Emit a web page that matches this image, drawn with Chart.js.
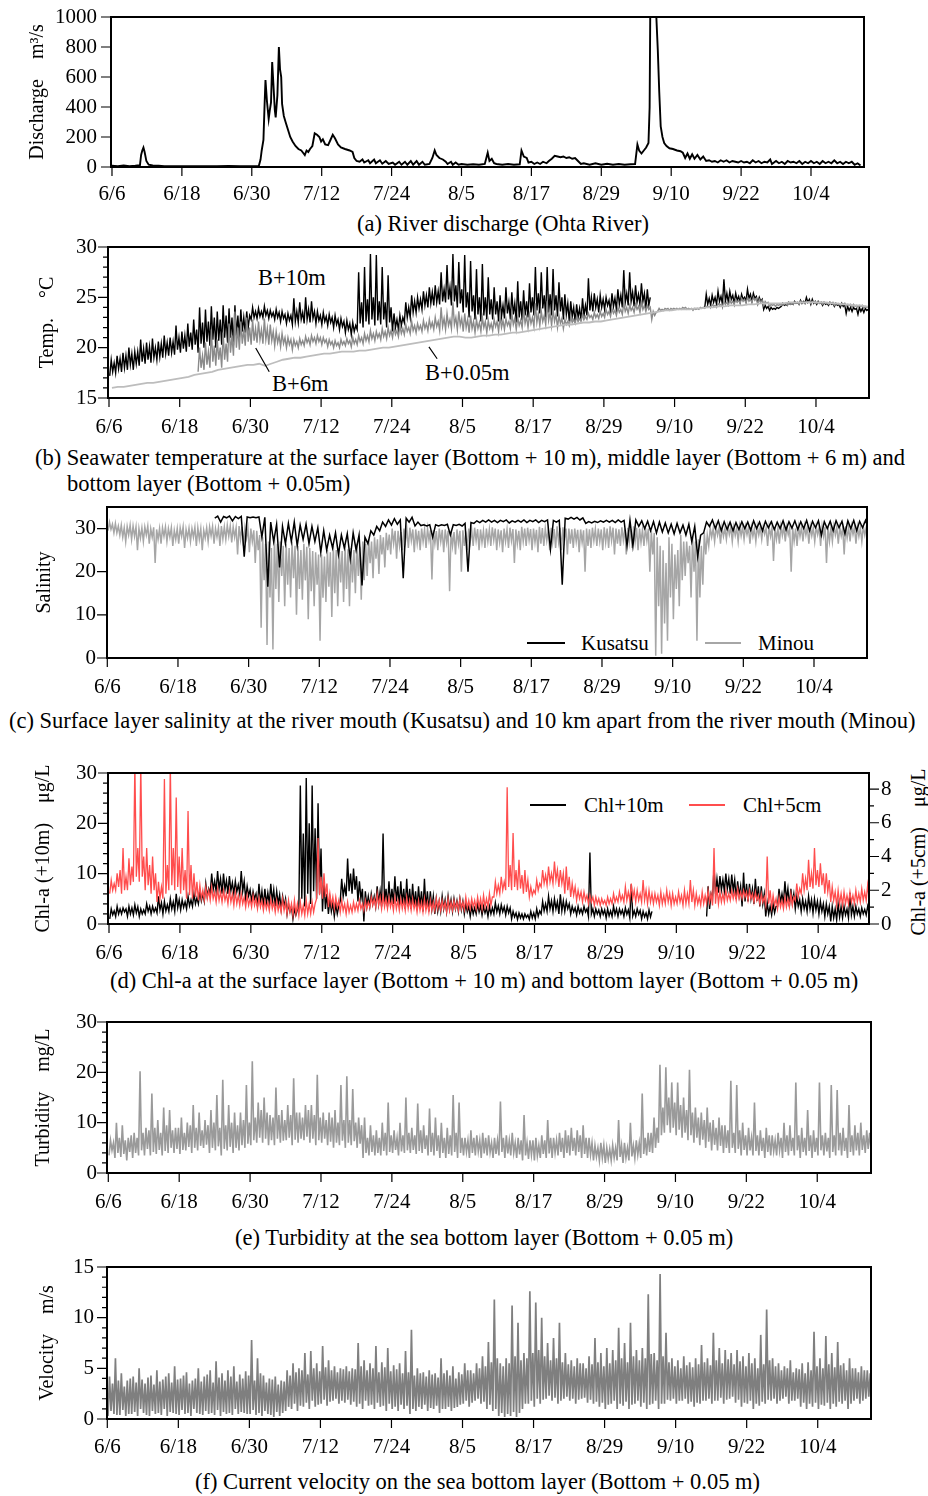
<!DOCTYPE html>
<html>
<head>
<meta charset="utf-8">
<title>Ohta River mouth observations</title>
<script src="https://cdn.jsdelivr.net/npm/chart.js@4.4.1/dist/chart.umd.min.js"></script>
<style>
  body { margin: 0; background: #fff; }
  #page { position: relative; width: 928px; height: 1496px; overflow: hidden; background: #fff;
          font-family: "Liberation Serif", "Times New Roman", serif; color: #000; }
  #page canvas { position: absolute; left: 0; }
  .t { position: absolute; font-size: 22.5px; line-height: 26px; white-space: nowrap; }
  .lg { position: absolute; height: 0; border-top: 2px solid #000; }
  .vt { position: absolute; font-size: 20px; white-space: pre; transform: translate(-50%, -50%) rotate(-90deg); }
</style>
</head>
<body>
<div id="page">
  <div class="t" style="left:357px;top:211px">(a) River discharge (Ohta River)</div>

  <div class="t" style="left:258px;top:265px">B+10m</div>
  <div class="t" style="left:272px;top:371px">B+6m</div>
  <div class="t" style="left:425px;top:360px">B+0.05m</div>
  <div class="t" style="left:35px;top:445px">(b) Seawater temperature at the surface layer (Bottom + 10 m), middle layer (Bottom + 6 m) and</div>
  <div class="t" style="left:67px;top:471px">bottom layer (Bottom + 0.05m)</div>

  <div class="lg" style="left:527px;top:642px;width:38px"></div>
  <div class="t" style="left:581px;top:630px;font-size:21px">Kusatsu</div>
  <div class="lg" style="left:705px;top:642px;width:36px;border-color:#a6a6a6"></div>
  <div class="t" style="left:758px;top:630px;font-size:21px">Minou</div>
  <div class="t" style="left:9px;top:708px">(c) Surface layer salinity at the river mouth (Kusatsu) and 10 km apart from the river mouth (Minou)</div>

  <div class="lg" style="left:530px;top:804px;width:36px"></div>
  <div class="t" style="left:584px;top:792px;font-size:21px">Chl+10m</div>
  <div class="lg" style="left:689px;top:804px;width:36px;border-color:#ff4d4d"></div>
  <div class="t" style="left:743px;top:792px;font-size:21px">Chl+5cm</div>
  <div class="vt" style="left:918px;top:852px">Chl-a (+5cm)    μg/L</div>
  <div class="t" style="left:110px;top:968px">(d) Chl-a at the surface layer (Bottom + 10 m) and bottom layer (Bottom + 0.05 m)</div>

  <div class="t" style="left:235px;top:1225px">(e) Turbidity at the sea bottom layer (Bottom + 0.05 m)</div>

  <div class="t" style="left:195px;top:1469px">(f) Current velocity on the sea bottom layer (Bottom + 0.05 m)</div>
</div>

<script>
// ---- time axis (days after 6/6) ----
const tickDays = [0, 12, 24, 36, 48, 60, 72, 84, 96, 108, 120];
const tickLabels = ['6/6', '6/18', '6/30', '7/12', '7/24', '8/5', '8/17', '8/29', '9/10', '9/22', '10/4'];

// ---- y tick values ----
const dischargeTicks = [0, 200, 400, 600, 800, 1000];
const tempTicks = [15, 20, 25, 30];
const salinityTicks = [0, 10, 20, 30];
const chlTicks = [0, 10, 20, 30];
const chlBottomTicks = [0, 2, 4, 6, 8];
const turbidityTicks = [0, 10, 20, 30];
const velocityTicks = [0, 5, 10, 15];

// ---- (a) river discharge, [day, m3/s] ----
const discharge = [
  [0,8],[1,6],[2,10],[3,5],[4,8],[4.8,12],[5,80],[5.2,110],[5.4,130],[5.6,100],[5.9,40],[6.3,15],[7,10],[8,8],
  [9,6],[10,5],[12,6],[14,5],[16,6],[18,5],[20,7],[22,5],[24,5],[25.2,6],[25.5,50],[25.7,110],[26,180],
  [26.2,420],[26.35,580],[26.6,440],[26.9,320],[27.1,380],[27.3,430],[27.5,700],[27.7,560],[27.95,380],
  [28.1,330],[28.4,480],[28.65,800],[28.85,650],[29.05,600],[29.2,420],[29.5,340],[29.8,300],[30.2,250],
  [30.6,200],[31,170],[31.5,140],[32,120],[32.5,110],[32.8,95],[33.1,80],[33.4,110],[33.7,100],[34,120],
  [34.4,140],[34.8,225],[35.2,215],[35.6,200],[35.9,170],[36.2,185],[36.6,150],[37.1,145],[37.5,180],
  [37.9,215],[38.3,190],[38.8,150],[39.3,130],[40,120],[40.8,110],[41.3,100],[41.6,60],[42,40],[42.5,35],
  [43,50],[43.3,30],[44,45],[44.3,25],[45,50],[45.3,25],[46,45],[46.4,22],[47,40],[47.5,20],[48.2,30],
  [48.6,15],[49.3,35],[49.7,15],[50.3,35],[50.7,15],[51.3,40],[51.7,15],[52.3,40],[52.7,15],[53.3,35],
  [53.7,15],[54.5,20],[55,60],[55.4,110],[55.7,80],[56.2,60],[56.8,50],[57.3,35],[57.6,20],[58.2,35],
  [58.5,15],[59,30],[59.5,15],[60,20],[61,15],[62,18],[63,15],[64,20],[64.5,95],[64.8,40],[65.2,55],
  [65.6,25],[66,20],[67,15],[68,20],[69,15],[70,18],[70.3,110],[70.7,70],[71.2,60],[71.5,30],[72,35],
  [72.5,20],[73,30],[73.5,20],[74,35],[74.6,25],[75,40],[75.5,55],[76,75],[76.5,70],[77,65],[77.5,70],
  [78,60],[78.5,65],[79,55],[79.5,60],[80,40],[80.5,20],[81,25],[82,15],[83,25],[84,15],[85,22],[86,15],
  [87,20],[88,15],[89,18],[89.8,20],[90.2,150],[90.5,110],[90.9,90],[91.3,110],[91.7,130],[92.1,160],
  [92.3,400],[92.45,1300],[93.2,1300],[93.45,1000],[93.7,780],[93.95,500],[94.2,270],[94.5,200],[94.8,160],
  [95.2,140],[95.7,125],[96.3,120],[97,110],[97.6,105],[98,95],[98.4,60],[98.8,90],[99.2,55],[99.6,85],
  [100,55],[100.5,80],[101,50],[101.5,70],[102,40],[102.5,45],[103,35],[103.5,40],[104,30],[104.5,45],
  [105,35],[105.5,45],[106,30],[106.5,40],[107,35],[107.5,30],[108,40],[108.5,30],[109,35],[109.5,25],
  [110,45],[110.5,30],[111,40],[111.5,25],[112,35],[112.5,30],[113,50],[113.3,20],[114,40],[114.5,25],
  [115,35],[115.5,20],[116,40],[116.5,30],[117,35],[117.5,25],[118,40],[118.5,20],[119,35],[119.5,25],
  [120,40],[120.5,25],[121,35],[121.5,20],[122,40],[122.5,25],[123,35],[123.5,25],[124,45],[124.5,25],
  [125,35],[125.5,20],[126,35],[126.5,25],[127,35],[127.5,15],[128,25],[128.5,10]
];

// ---- (b) water temperature, two low / high readings per day (°C) ----
const tempB10Lo = [
  17.2,17.5,17.6,17.8,17.8,18.2,18.4,18.5,18.8,19.0, 19.2,19.3,19.5,19.6,19.8,19.5,20.0,20.2,20.0,20.3,
  20.5,20.2,21.0,21.5,22.8,22.9,23.0,22.9,22.8,22.6, 22.4,22.3,22.5,22.4,22.5,22.4,22.3,22.2,22.0,21.8,
  21.5,21.3,21.8,22.0,22.3,22.2,22.3,22.0,21.6,21.8, 22.5,23.0,23.5,23.8,24.0,24.2,24.3,24.5,24.2,24.0,
  23.5,23.0,22.8,22.6,22.8,22.8,22.6,22.9,22.8,22.5, 22.7,23.0,23.2,23.4,23.0,23.2,23.1,22.8,22.6,22.5,
  22.7,23.2,23.6,23.5,23.8,23.6,23.8,24.0,24.2,24.1, 24.3,23.8,null,null,null,null,null,null,null,null,
  null,24.0,24.2,24.3,24.3,24.5,24.4,24.5,24.6,24.6, 24.4,23.8,23.7,23.8,24.1,24.2,24.3,24.3,24.4,24.3,
  24.3,24.2,24.2,24.1,24.0,23.4,23.6,23.3,23.5,23.7
];
const tempB10Hi = [
  18.8,19.2,19.5,20.0,19.6,20.8,20.5,20.9,20.6,21.2, 21.0,22.2,21.6,22.4,22.8,24.0,23.8,24.1,23.6,24.2,
  23.9,24.2,23.8,23.6,24.0,23.9,24.1,23.7,23.8,23.6, 23.4,24.9,24.5,25.0,24.6,23.6,23.5,23.3,23.2,22.9,
  22.7,22.5,27.5,28.0,29.3,29.2,28.0,27.2,23.4,23.2, 24.5,25.2,25.0,25.6,26.0,26.2,27.5,28.2,29.3,28.5,
  29.2,28.6,27.8,28.3,27.0,26.0,25.2,26.0,25.5,26.6, 25.7,26.4,28.0,27.5,28.0,27.8,26.5,25.3,24.6,24.3,
  24.9,26.9,25.4,25.2,25.0,25.4,25.8,27.7,27.5,26.2, 26.4,25.8,null,null,null,null,null,null,null,null,
  null,25.3,25.2,25.6,26.8,25.6,25.4,25.3,25.8,25.4, 25.0,24.2,24.0,24.0,24.4,24.5,24.6,24.7,25.0,24.8,
  24.6,24.5,24.5,24.4,24.4,24.1,24.0,24.0,23.9,24.0
];
const tempB10Lo2 = [
  17.6,17.9,18.0,18.3,18.4,18.6,18.8,19.0,19.1,19.4, 19.5,19.8,19.9,20.1,20.3,20.4,20.6,20.8,20.7,21.0,
  21.0,21.2,21.6,22.0,23.0,23.1,23.2,23.1,23.0,22.9, 22.7,22.6,22.8,22.8,22.9,22.7,22.6,22.5,22.3,22.1,
  21.8,21.6,22.4,22.6,22.8,22.7,22.8,22.5,22.0,22.2, 23.0,23.5,23.9,24.2,24.4,24.5,24.6,24.8,24.6,24.4,
  24.0,23.6,23.3,23.2,23.3,23.3,23.1,23.4,23.3,23.0, 23.2,23.5,23.7,23.9,23.5,23.7,23.6,23.3,23.1,23.0,
  23.2,23.7,24.0,24.0,24.2,24.1,24.3,24.5,24.6,24.5, 24.6,24.2,null,null,null,null,null,null,null,null,
  null,24.3,24.5,24.6,24.6,24.8,24.7,24.8,24.9,24.9, 24.6,23.9,23.8,23.9,24.2,24.3,24.4,24.4,24.5,24.4,
  24.4,24.3,24.3,24.2,24.1,23.7,23.8,23.6,23.7,23.8
];
const tempB10Hi2 = [
  18.5,18.9,19.2,19.4,19.6,19.9,20.1,20.0,20.4,20.5, 20.6,21.0,21.2,21.5,21.8,22.5,22.6,23.0,22.8,23.2,
  23.0,23.2,23.0,23.2,23.6,23.6,23.7,23.5,23.5,23.3, 23.2,23.6,23.5,23.8,23.6,23.2,23.1,23.0,22.8,22.6,
  22.4,22.2,24.5,24.8,25.0,24.6,24.5,24.0,22.8,23.0, 24.0,24.6,24.8,25.2,25.5,25.6,25.8,26.0,26.2,25.8,
  25.5,25.2,25.0,25.0,24.8,24.6,24.2,24.5,24.4,24.6, 24.6,25.0,25.4,25.2,25.3,25.2,25.0,24.4,24.0,23.9,
  24.2,25.0,24.8,24.8,24.7,24.9,25.2,25.4,25.5,25.3, 25.4,25.0,null,null,null,null,null,null,null,null,
  null,24.9,25.0,25.1,25.4,25.2,25.1,25.0,25.3,25.1, 24.8,24.1,23.9,24.0,24.3,24.4,24.5,24.6,24.8,24.6,
  24.5,24.4,24.4,24.3,24.3,24.0,23.9,23.9,23.8,23.9
];
const tempB6Start = 15;
const tempB6Lo = [
  17.6,17.8,18.0,18.2,18.0,
  18.6,19.2,19.8,20.2,20.3,20.5,20.4,20.3,20.2,20.1, 20.0,19.8,20.0,20.2,20.3,20.4,20.3,20.1,20.0,20.0,
  20.2,20.1,20.3,20.4,20.6,20.7,20.8,20.9,21.0,21.1, 21.3,21.4,21.5,21.6,21.7,21.8,21.7,21.8,21.9,21.8,
  21.6,21.5,21.5,21.6,21.5,21.7,21.6,21.8,21.9,21.8, 22.0,22.0,22.1,22.2,22.3,22.2,22.0,21.9,22.2,22.4,
  22.6,22.8,22.8,22.9,23.0,23.1,23.2,23.3,23.4,23.5, 23.5,23.6,22.8,23.6,23.7,23.7,23.8,23.8,23.8,23.7,
  23.8,23.9,24.0,24.0,24.1,24.2,24.3,24.4,24.4,24.5, 24.3,24.2,24.1,24.1,24.2,24.2,24.3,24.3,24.4,24.4,
  24.4,24.3,24.3,24.2,24.2,24.1,24.0,24.0,23.9,23.9
];
const tempB6Hi = [
  20.0,20.5,21.8,20.8,21.5,
  22.4,23.6,22.6,23.0,22.8,22.6,22.9,22.3,21.6,21.4, 21.0,20.8,20.9,21.1,21.2,21.2,21.0,20.8,20.7,20.8,
  20.9,21.0,21.2,21.4,21.7,21.6,21.9,22.0,22.0,22.2, 22.3,22.6,22.4,22.7,22.8,23.0,24.0,23.4,24.5,23.6,
  23.4,23.2,22.8,23.0,22.7,22.8,23.1,22.9,23.4,23.0, 23.8,23.3,24.4,23.6,24.6,23.8,23.2,22.8,23.0,23.1,
  23.3,23.4,23.5,23.6,23.8,23.9,24.0,24.4,24.2,24.3, 24.5,24.2,23.6,23.9,23.9,23.9,23.9,24.0,23.9,23.9,
  24.0,24.1,24.3,24.4,24.6,24.7,24.8,24.9,25.0,25.0, 24.8,24.6,24.3,24.3,24.4,24.4,24.5,24.6,24.6,24.6,
  24.5,24.5,24.5,24.4,24.4,24.3,24.3,24.2,24.1,24.1
];
const tempB6Lo2 = [
  18.0,18.3,18.6,18.8,18.8,
  19.5,20.0,20.4,20.6,20.7,20.8,20.8,20.7,20.5,20.4, 20.3,20.2,20.3,20.5,20.6,20.6,20.5,20.3,20.2,20.3,
  20.4,20.4,20.6,20.7,20.9,21.0,21.1,21.2,21.3,21.4, 21.6,21.7,21.8,21.9,22.0,22.1,22.1,22.2,22.3,22.2,
  22.0,21.9,21.9,22.0,21.9,22.1,22.0,22.2,22.3,22.2, 22.4,22.4,22.5,22.6,22.7,22.6,22.4,22.3,22.5,22.6,
  22.8,23.0,23.0,23.1,23.3,23.4,23.5,23.6,23.7,23.8, 23.8,23.8,23.2,23.7,23.8,23.8,23.8,23.9,23.8,23.8,
  23.9,24.0,24.1,24.2,24.3,24.4,24.5,24.6,24.6,24.7, 24.5,24.4,24.2,24.2,24.3,24.3,24.4,24.4,24.5,24.5,
  24.4,24.4,24.4,24.3,24.3,24.2,24.1,24.1,24.0,24.0
];
const tempB6Hi2 = [
  19.2,19.6,20.2,20.0,20.4,
  21.2,22.0,21.8,22.0,21.9,21.8,21.9,21.6,21.2,21.0, 20.8,20.6,20.7,20.9,21.0,21.0,20.8,20.6,20.5,20.6,
  20.7,20.8,21.0,21.2,21.4,21.4,21.6,21.7,21.7,21.9, 22.0,22.2,22.2,22.4,22.5,22.6,22.9,22.8,23.0,22.9,
  22.8,22.6,22.5,22.6,22.4,22.6,22.7,22.6,22.9,22.7, 23.1,23.0,23.4,23.2,23.5,23.3,22.9,22.6,22.8,22.9,
  23.1,23.2,23.3,23.4,23.6,23.7,23.8,24.0,24.0,24.1, 24.2,24.0,23.5,23.8,23.9,23.9,23.9,24.0,23.9,23.9,
  24.0,24.1,24.2,24.3,24.5,24.6,24.7,24.8,24.8,24.9, 24.7,24.5,24.3,24.3,24.4,24.4,24.5,24.5,24.6,24.6,
  24.5,24.5,24.5,24.4,24.4,24.3,24.2,24.2,24.1,24.1
];
const tempB005 = [
  16.0,16.1,16.1,16.2,16.3,16.4,16.5,16.5,16.6,16.7, 16.8,16.9,17.0,17.1,17.3,17.4,17.5,17.6,17.8,17.9,
  18.0,18.1,18.2,18.3,18.3,18.4,18.2,18.4,18.6,18.8, 18.9,19.0,19.0,19.1,19.2,19.3,19.4,19.4,19.5,19.6,
  19.6,19.6,19.7,19.7,19.8,19.9,20.0,20.0,20.1,20.2, 20.3,20.4,20.5,20.6,20.7,20.8,20.9,21.0,21.1,21.1,
  21.0,21.0,21.1,21.2,21.2,21.3,21.3,21.4,21.5,21.5, 21.6,21.7,21.8,21.9,22.0,22.1,22.2,22.3,22.3,22.4,
  22.5,22.5,22.6,22.6,22.7,22.8,22.9,23.0,23.1,23.2, 23.3,23.4,23.5,23.6,23.7,23.7,23.8,23.8,23.8,23.9,
  23.9,24.0,24.0,24.1,24.1,24.2,24.2,24.2,24.3,24.3, 24.4,24.4,24.4,24.4,24.4,24.5,24.5,24.5,24.5,24.5,
  24.5,24.5,24.4,24.4,24.3,24.3,24.2,24.2,24.1,24.0
];

// ---- (c) surface salinity: first and second tidal cycle low / high each day ----
const salMinouLo = [
  29.5,29.0,28.5,27.0,27.5,25.0,27.0,26.5,22.0,26.5, 27.0,26.0,26.5,25.5,27.0,26.0,25.0,27.0,26.5,26.0,
  27.5,26.8,24.0,26.0,24.5,22.0,7.0,3.0,2.0,13.0, 12.0,14.0,10.0,13.5,9.0,12.0,4.0,13.0,9.5,12.0,
  13.0,12.0,15.0,13.5,19.0,18.5,19.5,21.0,24.0,23.0, 25.0,25.5,24.5,25.0,25.5,18.2,25.0,24.5,15.5,24.0,
  20.0,25.0,26.0,25.0,25.5,26.0,25.0,24.5,25.5,22.0, 25.0,26.0,25.0,24.5,26.0,25.0,25.5,25.0,24.0,25.5,
  24.5,20.0,25.5,26.0,25.0,25.5,24.0,26.0,24.0,25.5, 25.0,26.0,20.0,0.5,1.0,4.0,9.0,12.0,19.0,14.0,
  4.0,17.0,26.0,27.0,26.5,27.5,27.0,27.0,27.5,26.5, 27.0,27.5,26.0,22.5,26.5,27.0,20.0,26.0,27.0,26.5,
  27.0,26.0,22.0,27.0,26.5,24.0,27.0,26.5,27.0,28.5
];
const salMinouHi = [
  31.5,31.2,30.8,30.5,30.6,30.0,30.4,30.0,29.8,30.2, 30.0,29.6,30.2,29.8,30.0,30.2,29.6,30.4,30.0,30.6,
  30.8,30.4,30.6,30.2,30.0,29.5,28.0,27.0,28.0,27.0, 26.5,27.0,26.0,26.5,25.5,24.5,24.0,25.0,26.0,25.5,
  26.0,25.5,26.5,27.0,27.5,28.0,28.5,29.0,30.0,29.5, 30.0,30.2,29.8,30.0,30.0,29.6,30.0,29.8,29.5,29.8,
  29.6,30.0,30.2,29.8,30.0,30.3,29.8,30.0,30.2,29.8, 30.4,30.2,30.0,30.4,30.0,30.2,30.5,30.3,30.0,30.0,
  29.8,30.0,30.2,30.0,30.3,30.5,30.0,30.3,30.2,30.5, 30.0,30.2,29.5,28.0,25.0,28.0,24.0,28.5,27.0,28.0,
  27.5,29.0,30.2,30.5,30.3,30.6,30.4,30.6,30.5,30.3, 30.6,30.4,30.5,30.3,30.6,30.4,30.2,30.5,30.6,30.4,
  30.5,30.6,30.4,30.6,30.3,30.5,30.6,30.4,30.5,30.5
];
const salMinouLo2 = [
  29.8,29.0,28.0,28.5,28.2,27.8,28.5,28.0,27.5,28.2, 28.0,27.5,28.2,27.8,28.0,27.5,27.8,28.3,28.0,27.6,
  28.2,28.0,27.5,27.8,27.0,25.0,18.0,14.0,16.0,19.0, 17.0,18.5,16.0,18.0,15.5,17.0,14.0,16.5,15.0,17.5,
  16.0,17.5,19.0,18.0,22.0,23.0,24.0,25.0,26.5,26.0, 27.0,27.2,26.5,27.0,27.3,26.5,27.0,26.8,26.0,26.5,
  26.0,27.0,27.2,26.8,27.0,27.3,26.8,27.0,27.2,26.5, 27.0,27.3,26.8,26.5,27.2,26.8,27.0,27.3,26.5,27.0,
  26.8,26.0,27.2,27.0,26.8,27.2,26.5,27.3,26.8,27.0, 26.8,27.2,24.0,12.0,8.0,14.0,16.0,18.0,22.0,20.0,
  14.0,24.0,28.0,28.5,28.2,28.6,28.4,28.3,28.6,28.2, 28.5,28.7,28.2,27.5,28.4,28.6,27.0,28.2,28.5,28.3,
  28.6,28.2,27.0,28.5,28.3,27.8,28.6,28.2,28.5,29.0
];
const salMinouHi2 = [
  31.0,30.6,30.2,30.8,30.4,30.2,30.6,30.3,30.0,30.4, 30.2,30.0,30.4,30.1,30.3,30.0,30.2,30.5,30.2,30.4,
  30.6,30.2,30.4,30.0,29.6,28.5,26.5,25.5,26.5,26.0, 25.5,26.0,25.0,25.8,24.8,24.0,23.5,24.5,25.0,24.8,
  25.2,25.0,25.8,26.5,27.0,27.5,28.0,28.6,29.5,29.2, 29.6,29.8,29.5,29.8,29.6,29.4,29.7,29.5,29.2,29.5,
  29.3,29.7,29.9,29.5,29.8,30.0,29.6,29.8,29.9,29.5, 30.0,29.9,29.7,30.1,29.8,29.9,30.2,30.0,29.8,29.7,
  29.6,29.8,29.9,29.8,30.0,30.2,29.8,30.0,29.9,30.2, 29.8,30.0,29.0,26.0,22.0,26.5,25.0,27.0,26.0,27.0,
  26.0,28.5,30.0,30.2,30.0,30.3,30.2,30.4,30.3,30.0, 30.3,30.2,30.3,30.0,30.4,30.2,30.0,30.3,30.4,30.2,
  30.3,30.4,30.2,30.4,30.1,30.3,30.4,30.2,30.3,30.4
];
const salKusatsuStart = 18;
const salKusatsuLo = [
  32.4,31.5,
  32.5,31.8,32.3,23.5,32.5,32.5,28.0,16.5,27.0,21.0, 26.5,27.0,26.0,27.5,26.5,27.0,24.5,25.0,25.5,24.0,
  25.5,23.0,25.0,16.8,26.5,28.5,29.5,30.5,30.8,31.0, 18.5,31.5,30.6,30.7,30.6,28.0,30.6,30.7,28.5,30.7,
  30.6,20.0,31.2,31.4,31.5,31.5,31.4,31.6,31.3,31.5, 31.5,31.4,31.6,31.4,31.6,25.2,31.5,17.0,32.2,32.2,
  32.0,31.2,31.3,31.4,31.5,31.5,31.4,31.5,26.0,26.0, 30.5,30.0,29.5,29.0,29.2,29.0,28.8,29.0,28.5,27.0,
  23.5,29.0,30.5,30.0,29.5,29.8,29.5,29.8,30.0,29.6, 30.0,29.5,30.2,29.8,30.0,29.7,30.1,29.8,30.0,29.5,
  30.2,28.5,30.0,29.5,30.2,28.8,30.0,29.5,30.2,30.0
];
const salKusatsuHi = [
  32.9,32.8,
  32.9,32.8,32.8,32.7,32.7,32.7,32.6,31.5,31.0,30.5, 31.2,31.5,30.8,31.0,30.5,30.2,29.5,28.5,29.0,28.5,
  28.8,29.0,28.5,28.0,29.5,30.5,31.5,32.0,32.3,32.0, 32.4,32.6,31.5,30.9,30.9,30.9,30.9,31.0,30.9,31.0,
  31.2,31.4,31.8,31.9,32.0,31.9,31.9,32.0,31.8,31.9, 32.0,31.9,32.0,31.9,32.0,31.9,31.9,32.4,32.6,32.6,
  32.5,31.6,31.7,31.8,31.9,31.9,32.0,31.9,31.9,32.0, 31.8,31.7,31.6,31.5,31.3,31.0,31.2,30.8,31.0,30.5,
  28.5,31.5,32.0,31.8,31.6,31.5,31.4,31.6,31.5,31.8, 31.5,31.7,31.6,31.5,31.8,31.6,31.8,31.6,31.9,31.7,
  31.8,31.6,31.7,31.8,31.7,31.8,31.9,31.7,31.9,31.8
];

// ---- (d) chlorophyll-a, two low / high readings per day (μg/L) ----
const chl10Lo = [
  1.0,1.5,2.0,1.5,1.8,1.5,2.0,2.0,2.2,2.0, 2.5,2.5,2.8,3.0,3.5,4.0,4.5,6.0,6.5,6.0,
  6.0,6.0,6.0,5.0,4.5,3.5,3.5,4.0,3.5,3.0, 2.0,1.0,3.0,3.5,4.0,5.0,2.5,2.0,1.5,4.5,
  5.5,6.0,4.5,0.5,3.5,3.5,3.5,3.5,4.0,3.5, 3.0,3.0,3.0,2.5,2.5,2.0,2.5,2.5,2.5,2.5,
  2.0,1.5,2.0,1.8,1.5,2.0,2.0,1.8,1.0,0.9, 1.0,0.9,1.0,2.0,2.5,2.5,2.0,2.5,2.0,1.8,
  2.0,1.5,1.5,1.5,1.2,1.5,1.5,1.5,1.2,1.5, 1.0,1.0,null,null,null,null,null,null,null,null,
  null,1.5,5.0,6.2,6.5,6.0,5.0,3.5,4.5,4.0, 3.5,1.5,1.8,3.5,4.0,3.5,3.0,2.5,2.5,2.2,
  2.0,1.5,0.5,0.8,1.2,1.2,1.5,1.5,1.8,2.0
];
const chl10Hi = [
  3.0,3.5,3.2,3.5,3.8,3.0,4.0,3.5,5.5,4.5, 5.0,6.0,4.8,5.5,6.0,6.5,8.0,10.0,10.5,10.0,
  9.5,8.5,10.5,7.5,6.5,8.0,7.0,8.0,6.5,5.5, 4.0,3.0,27.5,29.0,27.5,24.0,9.0,5.0,4.0,9.0,
  13.0,11.0,8.5,6.5,6.0,7.5,18.0,8.5,9.5,8.5, 9.0,8.0,7.5,9.0,6.5,5.0,5.5,5.5,5.0,5.0,
  4.0,3.5,4.0,3.5,3.5,4.2,3.8,3.5,2.5,2.2, 2.0,2.5,3.0,4.5,5.5,5.0,5.9,4.5,3.5,3.5,
  3.5,14.2,3.0,3.0,3.0,3.5,3.0,3.2,7.9,3.0, 2.5,2.8,null,null,null,null,null,null,null,null,
  null,7.5,11.2,9.5,10.0,9.8,8.5,10.2,8.0,9.0, 7.5,4.2,4.0,7.0,8.5,7.0,5.5,5.0,5.5,5.0,
  4.5,4.0,3.5,4.0,3.5,6.2,3.5,3.2,3.5,3.5
];
const chl10Lo2 = [
  1.8,2.0,2.4,2.0,2.2,2.0,2.5,2.4,2.8,2.6, 3.0,3.2,3.3,3.6,4.0,4.6,5.5,6.8,7.0,6.8,
  6.6,6.4,6.5,5.6,5.0,4.2,4.0,4.5,4.0,3.5, 2.5,1.8,5.0,6.0,6.5,6.0,3.0,2.5,2.0,5.5,
  6.5,6.8,5.0,3.5,4.0,4.0,4.0,4.0,4.5,4.0, 3.5,3.5,3.5,3.0,3.0,2.5,3.0,3.0,3.0,2.8,
  2.4,2.0,2.4,2.2,2.0,2.4,2.4,2.2,1.4,1.2, 1.3,1.2,1.5,2.6,3.0,3.0,2.6,3.0,2.4,2.2,
  2.4,2.0,2.0,1.9,1.6,1.9,2.0,1.9,1.6,1.9, 1.4,1.4,null,null,null,null,null,null,null,null,
  null,3.0,6.0,6.8,7.0,6.6,5.6,4.5,5.0,4.6, 4.0,2.0,2.2,4.2,4.8,4.2,3.5,3.0,3.0,2.8,
  2.5,2.0,1.2,1.4,1.8,1.8,2.0,2.0,2.2,2.4
];
const chl10Hi2 = [
  2.6,3.0,3.0,3.2,3.4,2.8,3.5,3.2,4.2,3.8, 4.4,4.8,4.4,4.8,5.2,6.0,7.0,8.5,9.0,8.6,
  8.2,7.8,8.5,6.8,6.0,6.5,6.2,6.8,5.8,5.0, 3.5,2.8,18.0,20.0,19.0,15.0,6.0,4.2,3.5,7.5,
  10.0,9.5,7.0,5.5,5.5,6.5,7.0,7.0,7.5,7.0, 7.0,6.5,6.5,6.5,5.5,4.5,4.8,4.8,4.6,4.5,
  3.5,3.2,3.6,3.2,3.2,3.6,3.4,3.2,2.2,2.0, 1.8,2.2,2.6,4.0,4.6,4.4,4.6,4.0,3.2,3.0,
  3.0,3.0,2.8,2.8,2.6,3.0,2.8,2.8,2.6,2.7, 2.2,2.5,null,null,null,null,null,null,null,null,
  null,6.0,9.0,8.8,9.0,8.8,7.5,8.0,7.0,7.5, 6.0,3.5,3.5,6.0,7.0,6.0,4.8,4.5,4.8,4.5,
  4.0,3.5,3.0,3.4,3.0,3.5,3.0,2.9,3.0,3.0
];
const chl5Lo = [
  1.8,2.0,1.8,2.0,2.5,2.5,2.0,1.8,1.3,1.5, 2.0,2.0,1.8,1.5,1.5,1.4,1.4,1.4,1.3,1.3,
  1.2,1.1,1.1,1.0,1.0,0.9,0.8,0.8,0.7,0.7, 0.6,0.5,0.5,0.5,0.6,1.5,1.5,1.0,0.9,0.7,
  0.6,0.7,0.8,0.8,1.0,1.0,0.9,0.9,0.8,0.8, 0.8,0.8,0.7,0.7,0.7,0.8,0.8,0.7,0.8,0.8,
  0.85,0.9,0.9,0.9,1.0,1.6,1.8,2.0,2.0,2.0, 1.8,1.6,1.8,2.2,2.3,2.4,2.2,1.8,1.6,1.4,
  1.3,1.2,1.1,1.1,1.1,1.2,1.3,1.3,1.4,1.3, 1.3,1.2,1.2,1.1,1.2,1.1,1.2,1.1,1.2,1.1,
  1.1,1.2,1.1,1.2,1.3,1.4,1.4,1.5,1.4,1.3, 1.2,1.1,1.0,0.9,0.9,1.0,1.4,1.8,2.0,2.1,
  2.2,1.8,1.3,1.1,1.1,1.2,1.2,1.3,1.4,1.6
];
const chl5Hi = [
  2.6,3.0,4.5,3.9,9.5,9.5,4.5,4.0,2.5,8.6, 9.5,7.5,4.5,6.7,3.0,2.3,2.2,2.2,2.1,2.0,
  2.0,1.9,1.8,1.7,1.7,1.6,1.4,1.5,1.4,1.5, 1.4,1.4,1.3,1.4,1.3,5.1,3.0,1.8,1.6,1.4,
  1.3,1.3,1.4,1.4,1.6,1.8,1.7,1.6,1.6,1.5, 1.6,1.5,1.4,1.5,1.4,1.5,1.4,1.5,1.4,1.5,
  1.6,1.5,1.6,1.7,1.8,2.5,2.8,8.1,5.4,3.8, 3.2,2.2,2.6,3.2,3.4,3.7,3.2,3.4,2.4,2.0,
  1.9,1.7,1.6,1.5,1.6,1.8,1.9,2.2,2.4,2.0, 2.6,2.0,1.8,1.9,2.0,1.8,1.9,2.0,2.6,1.8,
  1.9,2.0,4.5,1.9,2.0,2.0,2.1,2.0,2.0,1.9, 1.8,4.0,1.7,1.6,1.6,1.8,2.4,3.0,3.8,4.5,
  3.6,3.0,2.2,2.0,1.9,1.9,2.0,2.1,2.3,2.2
];
const chl5Lo2 = [
  2.0,2.2,2.0,2.3,2.8,2.8,2.3,2.0,1.5,1.8, 2.3,2.2,2.0,1.7,1.6,1.5,1.5,1.5,1.4,1.4,
  1.3,1.2,1.2,1.1,1.1,1.0,0.9,0.9,0.8,0.8, 0.7,0.6,0.6,0.6,0.7,1.7,1.6,1.1,1.0,0.8,
  0.7,0.8,0.9,0.9,1.1,1.1,1.0,1.0,0.9,0.9, 0.9,0.9,0.8,0.8,0.8,0.9,0.9,0.8,0.9,0.9,
  0.95,1.0,1.0,1.0,1.1,1.8,2.0,2.2,2.2,2.1, 1.9,1.7,2.0,2.4,2.5,2.6,2.4,2.0,1.7,1.5,
  1.4,1.3,1.2,1.2,1.2,1.3,1.4,1.4,1.5,1.4, 1.4,1.3,1.3,1.2,1.3,1.2,1.3,1.2,1.3,1.2,
  1.2,1.3,1.2,1.3,1.4,1.5,1.5,1.6,1.5,1.4, 1.3,1.2,1.1,1.0,1.0,1.1,1.6,2.0,2.2,2.3,
  2.3,1.9,1.4,1.2,1.2,1.3,1.3,1.4,1.5,1.7
];
const chl5Hi2 = [
  2.4,3.2,2.8,3.4,4.5,4.0,3.5,3.0,2.2,3.5, 4.5,4.0,3.2,3.5,2.5,2.0,2.0,1.9,1.9,1.8,
  1.8,1.7,1.6,1.5,1.5,1.4,1.3,1.3,1.2,1.3, 1.2,1.2,1.1,1.2,1.2,2.8,2.4,1.6,1.4,1.2,
  1.1,1.2,1.2,1.3,1.5,1.6,1.5,1.4,1.4,1.4, 1.4,1.3,1.3,1.3,1.3,1.4,1.3,1.3,1.3,1.3,
  1.4,1.4,1.5,1.5,1.6,2.3,2.5,3.5,3.2,2.9, 2.6,2.0,2.4,2.9,3.0,3.2,3.0,2.8,2.2,1.9,
  1.7,1.6,1.5,1.4,1.5,1.6,1.7,1.9,2.0,1.8, 2.0,1.8,1.7,1.7,1.8,1.6,1.7,1.8,2.0,1.6,
  1.7,1.8,2.2,1.8,1.8,1.9,1.9,1.9,1.8,1.7, 1.6,2.0,1.5,1.4,1.5,1.6,2.1,2.7,3.0,3.2,
  3.0,2.6,1.9,1.8,1.7,1.7,1.8,1.9,2.0,2.0
];

// ---- (e) bottom turbidity, two tidal cycles per day (mg/L) ----
const turbLo = [
  3.5,3.0,3.2,2.5,3.0,3.5,3.5,3.5,3.8,3.5, 4.0,4.0,3.8,4.5,4.0,4.5,5.0,4.0,4.5,3.5,
  4.5,4.0,4.5,5.0,5.5,6.0,6.0,5.5,5.5,6.0, 6.5,5.5,6.0,6.5,6.0,5.5,6.0,5.5,5.0,5.5,
  5.0,5.5,5.0,3.0,3.5,3.5,3.5,3.5,4.0,3.5, 4.0,4.0,3.8,4.0,3.5,3.5,3.0,3.0,3.5,3.0,
  3.5,3.0,3.5,3.0,3.5,3.0,3.5,3.0,3.5,3.0, 2.5,2.8,2.5,3.0,3.0,3.0,3.5,3.0,3.5,3.5,
  3.0,3.0,2.5,2.5,2.0,2.5,2.5,2.0,2.5,3.0, 3.0,3.5,4.0,6.0,8.0,8.0,7.5,7.0,6.5,6.0,
  5.5,5.0,4.5,4.5,4.0,4.0,4.0,3.5,3.5,3.5, 3.5,3.0,3.5,3.5,3.0,3.5,3.5,3.0,3.5,3.0,
  3.5,3.5,3.0,3.5,3.5,3.0,3.5,3.5,4.0,4.5
];
const turbHi = [
  6.5,10.0,9.5,7.0,8.0,20.2,9.0,15.8,10.5,13.0, 12.5,9.0,11.0,10.0,13.5,12.0,10.5,12.5,15.5,18.5,
  13.5,12.0,12.0,17.5,22.2,14.0,15.0,11.5,17.0,12.5, 13.5,18.8,12.0,13.5,13.5,19.5,12.0,12.0,12.5,17.5,
  19.2,16.7,11.0,11.0,9.5,8.5,10.0,14.0,8.5,10.0, 15.0,9.0,13.8,9.5,12.8,11.0,10.0,9.0,15.5,14.0,
  7.0,8.5,7.5,8.0,7.5,7.0,14.2,7.5,8.0,7.0, 11.5,6.5,7.0,7.5,10.5,7.0,8.0,8.5,9.0,8.5,
  9.5,7.0,5.5,6.0,5.0,5.5,10.5,6.0,10.0,6.5, 15.8,8.0,11.0,21.5,21.0,18.0,18.0,15.0,20.5,13.0,
  12.0,13.0,10.5,11.0,9.5,18.3,17.5,10.0,9.0,14.0, 8.5,9.0,7.5,8.0,10.0,9.5,18.0,9.0,12.5,8.5,
  18.0,8.0,17.5,16.5,9.0,13.5,9.5,10.0,8.5,7.0
];
const turbLo2 = [
  4.5,4.0,3.8,4.2,4.0,4.5,4.8,4.2,4.6,4.4, 5.0,4.8,4.6,5.2,5.0,5.4,5.6,5.0,5.3,4.8,
  5.2,5.0,5.5,5.8,6.5,7.0,6.8,6.5,6.8,6.4, 7.0,6.6,6.8,7.2,6.8,6.5,6.8,6.2,6.0,6.4,
  6.0,6.3,5.8,4.0,4.2,4.0,4.4,4.2,4.6,4.3, 4.5,4.6,4.4,4.8,4.2,4.4,4.0,3.8,4.2,4.0,
  4.2,4.0,4.3,3.9,4.1,3.8,4.2,3.9,4.0,3.7, 3.5,3.6,3.4,3.8,3.9,4.0,4.2,4.0,4.4,4.2,
  3.8,3.6,3.2,3.0,2.8,3.0,3.2,3.0,3.3,3.6, 3.8,4.2,5.0,7.5,9.5,9.0,8.6,8.0,7.5,7.0,
  6.6,6.2,5.6,5.4,5.0,5.0,4.8,4.6,4.5,4.4, 4.4,4.2,4.3,4.5,4.2,4.4,4.5,4.2,4.4,4.2,
  4.5,4.3,4.2,4.5,4.4,4.2,4.5,4.6,4.8,5.0
];
const turbHi2 = [
  6.0,7.0,6.5,7.5,7.0,8.0,8.5,9.0,8.0,9.5, 8.5,9.0,8.0,9.5,9.0,8.5,9.5,10.0,9.0,9.5,
  10.0,9.5,10.5,10.0,11.0,12.5,12.0,11.0,11.5,10.5, 11.5,12.0,11.0,12.5,11.5,11.0,10.5,11.0,10.0,10.5,
  10.5,10.0,9.5,7.0,7.5,7.0,8.0,7.5,7.0,7.5, 8.0,7.5,8.5,7.5,8.0,7.5,7.0,7.5,8.0,7.0,
  6.5,7.0,6.5,7.0,6.0,6.5,7.0,6.5,6.0,6.5, 6.0,6.5,5.5,6.5,7.0,6.5,7.0,7.5,7.0,7.5,
  7.0,6.0,5.0,5.5,4.8,5.0,5.5,5.0,5.5,6.0, 7.0,8.0,9.0,13.0,15.0,14.0,13.5,12.5,12.0,11.0,
  10.5,10.0,9.0,9.5,8.5,8.0,8.5,7.5,7.0,7.5, 7.0,7.5,6.5,7.0,7.5,7.0,7.5,7.0,7.5,7.0,
  7.5,7.0,7.5,8.0,7.0,7.5,8.0,7.5,8.0,7.0
];

// ---- (f) bottom current velocity, two tidal cycles per day ----
const velLo = [
  0.3,0.5,0.4,0.3,0.5,0.3,0.6,0.3,0.5,0.4, 0.3,0.6,0.4,0.5,0.3,0.6,0.4,0.5,0.4,0.3,
  0.5,0.4,0.5,0.6,0.5,0.4,0.3,0.5,0.2,0.3, 0.8,1.0,0.8,1.2,1.0,1.2,1.5,1.3,1.8,1.5,
  1.6,1.4,1.2,1.0,1.3,1.0,1.2,0.8,1.0,0.8, 1.0,0.5,0.8,1.0,0.8,1.0,0.6,1.0,0.8,1.2,
  1.5,1.2,1.8,1.5,1.0,0.8,0.3,0.2,0.3,0.2, 1.0,1.5,1.2,1.5,2.0,1.8,1.5,2.0,1.8,1.5,
  2.0,1.6,1.5,1.2,1.0,1.5,1.0,1.3,1.0,1.5, 1.2,1.0,1.5,1.0,1.5,1.8,1.5,1.8,1.5,1.2,
  1.5,1.8,1.5,1.8,1.5,2.0,1.6,1.2,1.5,1.0, 1.3,1.5,1.8,1.5,2.0,1.5,1.8,1.2,1.0,1.2,
  1.0,1.3,1.0,1.2,1.5,1.0,1.8,1.5,2.0,2.2
];
const velHi = [
  4.2,6.0,4.5,3.8,4.2,5.0,3.5,4.3,4.8,3.9, 4.5,5.2,4.0,4.6,3.8,5.0,4.2,4.8,5.7,4.5,
  4.8,5.2,4.4,4.7,7.8,6.0,4.3,4.0,4.2,3.8, 4.8,5.5,5.0,6.5,6.7,5.5,7.2,5.8,5.2,5.0,
  5.2,5.0,7.5,5.8,5.5,7.2,5.6,7.0,5.3,5.5, 6.7,8.8,5.0,4.6,4.8,4.5,6.0,4.8,5.2,4.6,
  5.5,4.8,5.5,6.2,7.6,11.8,5.5,6.0,11.2,9.5, 6.5,12.6,11.5,10.0,7.5,8.0,9.5,6.5,5.8,6.0,
  5.5,6.2,8.0,6.5,7.0,6.8,9.0,7.5,9.5,6.8, 7.0,12.3,6.5,14.3,8.5,6.0,5.8,6.2,5.6,6.0,
  7.3,6.0,8.5,7.0,6.8,6.5,6.8,6.2,6.5,6.0, 8.3,10.8,6.0,5.5,5.2,5.8,5.0,5.5,5.6,8.6,
  6.0,8.2,6.5,7.6,5.5,6.0,5.0,5.2,4.8,4.5
];
const velLo2 = [
  0.8,0.4,0.9,0.5,0.7,1.0,0.4,0.8,0.6,1.0, 0.7,0.5,0.9,0.6,1.0,0.5,0.8,0.6,0.9,0.7,
  0.6,1.0,0.7,0.5,0.9,0.6,0.8,0.4,0.7,0.6, 1.2,1.5,1.3,1.6,1.8,1.4,1.9,1.7,2.0,1.8,
  1.9,1.7,1.5,1.8,1.4,1.6,1.3,1.5,1.2,1.4, 1.3,1.0,1.2,1.4,1.1,1.3,1.0,1.2,1.1,1.4,
  1.8,1.6,2.0,1.7,1.4,1.0,0.6,0.5,0.7,0.6, 1.5,1.8,2.0,1.9,2.3,2.1,1.8,2.2,2.0,1.9,
  2.1,1.9,1.7,1.6,1.4,1.8,1.5,1.7,1.4,1.8, 1.6,1.4,1.8,1.5,1.9,2.0,1.8,2.0,1.7,1.6,
  1.8,2.0,1.8,2.1,1.9,2.2,1.9,1.6,1.8,1.5, 1.7,1.9,2.0,1.8,2.2,1.8,2.0,1.6,1.5,1.6,
  1.4,1.6,1.5,1.7,1.8,1.5,2.0,1.8,2.2,2.3
];
const velHi2 = [
  3.5,3.8,3.2,4.0,3.6,3.9,4.1,3.4,3.7,4.2, 3.6,3.9,4.3,3.5,4.0,3.7,4.4,3.6,4.1,3.8,
  4.2,3.7,4.0,4.3,3.8,4.5,3.6,3.9,3.4,3.7, 4.3,4.6,4.8,4.4,5.0,4.7,5.1,4.8,4.6,4.9,
  4.7,4.9,5.2,4.8,5.0,4.6,5.1,4.7,4.9,4.5, 4.6,4.3,4.5,4.2,4.4,4.1,4.5,4.3,4.0,4.4,
  4.8,4.5,5.0,5.2,5.6,6.0,5.2,5.5,6.2,5.8, 6.0,6.5,6.8,6.2,5.8,6.0,5.6,5.4,5.2,5.5,
  5.0,5.4,5.6,5.2,5.5,5.8,6.0,5.6,6.2,5.8, 6.0,6.4,5.8,6.2,5.6,5.2,5.0,5.3,5.1,5.4,
  5.6,5.3,5.8,5.5,5.9,5.4,5.7,5.2,5.5,5.0, 5.4,5.8,5.2,4.8,5.0,4.6,4.9,4.5,4.8,5.2,
  5.0,5.4,5.1,5.3,4.8,5.0,4.6,4.8,4.5,4.2
];

// ------------------------------------------------------------------
const SERIF = '"Liberation Serif", "Times New Roman", serif';
Chart.defaults.font.family = SERIF;
Chart.defaults.color = '#000';

// one low and one high reading per day -> polyline
function zig(lo, hi, start) {
  start = start || 0;
  const pts = [];
  for (let i = 0; i < lo.length; i++) {
    const d = start + i;
    pts.push({ x: d + 0.25, y: lo[i] }, { x: d + 0.75, y: hi[i] });
  }
  return pts;
}

// two low / high readings per day -> polyline
function zig2(lo, hi, lo2, hi2, start) {
  start = start || 0;
  const pts = [];
  for (let i = 0; i < lo.length; i++) {
    const d = start + i;
    pts.push({ x: d + 0.125, y: lo[i] }, { x: d + 0.375, y: hi[i] },
             { x: d + 0.625, y: lo2[i] }, { x: d + 0.875, y: hi2[i] });
  }
  return pts;
}

function series(data, color, width) {
  return {
    data: data, borderColor: color, borderWidth: width || 1.3,
    pointRadius: 0, fill: false, spanGaps: false, tension: 0, clip: 0
  };
}

// frame, outward tick marks and leader lines
const axisFrame = {
  id: 'axisFrame',
  afterDatasetsDraw(chart, args, opts) {
    const { ctx, chartArea: a, scales } = chart;
    ctx.save();
    ctx.strokeStyle = '#000';
    ctx.lineWidth = 1.2;
    ctx.beginPath();
    tickDays.forEach(d => {
      const x = scales.x.getPixelForValue(d);
      ctx.moveTo(x, a.bottom);
      ctx.lineTo(x, a.bottom + 9);
    });
    (opts.axes || []).forEach(ax => {
      const s = scales[ax.id];
      const dir = ax.side === 'right' ? 1 : -1;
      const x0 = dir > 0 ? a.right : a.left;
      if (ax.minor) {
        for (let v = s.min; v <= s.max + 1e-6; v += ax.minor) {
          const y = s.getPixelForValue(v);
          ctx.moveTo(x0, y);
          ctx.lineTo(x0 + dir * 5, y);
        }
      }
      ax.major.forEach(v => {
        const y = s.getPixelForValue(v);
        ctx.moveTo(x0, y);
        ctx.lineTo(x0 + dir * 10, y);
      });
    });
    (opts.leaders || []).forEach(l => {
      ctx.moveTo(scales.x.getPixelForValue(l[0][0]), scales.y.getPixelForValue(l[0][1]));
      ctx.lineTo(scales.x.getPixelForValue(l[1][0]), scales.y.getPixelForValue(l[1][1]));
    });
    ctx.stroke();
    ctx.lineWidth = 2;
    ctx.strokeRect(a.left, a.top, a.right - a.left, a.bottom - a.top);
    ctx.restore();
  }
};

function valueTicks(vals) {
  return s => { s.ticks = vals.map(v => ({ value: v })); };
}

function makePanel(p) {
  const PAD_TOP = 14, X_H = 44;
  let h = PAD_TOP + (p.bottom - p.top) + X_H;
  const cv = document.createElement('canvas');
  cv.width = 928; cv.height = h;
  cv.style.top = (p.top - PAD_TOP) + 'px';
  cv.style.width = '928px'; cv.style.height = h + 'px';
  document.getElementById('page').appendChild(cv);

  const scales = {
    x: {
      type: 'linear', min: p.xMin, max: p.xMax,
      afterFit: s => { s.height = X_H; s.paddingLeft = 0; s.paddingRight = 0; },
      afterBuildTicks: valueTicks(tickDays),
      ticks: { callback: v => tickLabels[tickDays.indexOf(v)], padding: p.xPad, autoSkip: false,
               maxRotation: 0, font: { size: 21 }, color: '#000' },
      grid: { display: false, drawTicks: false },
      border: { display: false }
    },
    y: {
      type: 'linear', min: p.yMin, max: p.yMax,
      afterFit: s => { s.width = p.left; s.paddingTop = 0; s.paddingBottom = 0; },
      afterBuildTicks: valueTicks(p.yTicks),
      ticks: { callback: v => String(v), padding: p.yPad, autoSkip: false, font: { size: 21 }, color: '#000' },
      grid: { display: false, drawTicks: false },
      border: { display: false },
      title: { display: true, text: p.yTitle, font: { size: 20, lineHeight: 1 },
               padding: { top: p.titleX - 10, bottom: 0 }, color: '#000' }
    }
  };
  if (p.y2) {
    scales.y2 = {
      type: 'linear', position: 'right', min: p.y2.min, max: p.y2.max,
      afterFit: s => { s.width = 928 - p.right; s.paddingTop = 0; s.paddingBottom = 0; },
      afterBuildTicks: valueTicks(p.y2.ticks),
      ticks: { callback: v => String(v), padding: 12, autoSkip: false, font: { size: 21 }, color: '#000' },
      grid: { display: false, drawTicks: false },
      border: { display: false }
    };
  }

  const axes = [{ id: 'y', side: 'left', major: p.yTicks, minor: p.yMinor }];
  if (p.y2) axes.push({ id: 'y2', side: 'right', major: p.y2.ticks, minor: p.y2.minor });

  const chart = new Chart(cv, {
    type: 'line',
    data: { datasets: p.datasets },
    options: {
      responsive: false, animation: false, events: [],
      layout: { autoPadding: false,
                padding: { top: PAD_TOP, left: 0, bottom: 0, right: p.y2 ? 0 : 928 - p.right } },
      plugins: { legend: { display: false }, tooltip: { enabled: false },
                 axisFrame: { axes: axes, leaders: p.leaders || [] } },
      scales: scales
    },
    plugins: [axisFrame]
  });

  // keep the plot box where it belongs if the layout pushed its top edge down
  const shift = Math.round(chart.chartArea.top - PAD_TOP);
  if (shift !== 0) {
    h += shift;
    cv.style.top = (p.top - PAD_TOP - shift) + 'px';
    chart.resize(928, h);
  }
  return chart;
}

// (a) river discharge
makePanel({
  left: 111, right: 864, top: 17, bottom: 167, xMin: -0.17, xMax: 129.1, xPad: 15,
  yMin: 0, yMax: 1000, yTicks: dischargeTicks, yPad: 14, titleX: 38, yTitle: 'Discharge    m³/s',
  datasets: [series(discharge.map(d => ({ x: d[0], y: d[1] })), '#000', 1.9)]
});

// (b) water temperature
makePanel({
  left: 108, right: 869, top: 247, bottom: 398, xMin: -0.17, xMax: 129.0, xPad: 17,
  yMin: 15, yMax: 30, yTicks: tempTicks, yMinor: 1, yPad: 11, titleX: 48, yTitle: 'Temp.    °C',
  leaders: [[[24.9, 19.97], [27.2, 17.6]], [[54.3, 20.07], [55.7, 18.9]]],
  datasets: [
    series(tempB005.map((v, d) => ({ x: d + 0.5, y: v })), '#bdbdbd', 1.8),
    series(zig2(tempB6Lo, tempB6Hi, tempB6Lo2, tempB6Hi2, tempB6Start), '#8a8a8a', 1.4),
    series(zig2(tempB10Lo, tempB10Hi, tempB10Lo2, tempB10Hi2), '#000', 1.4)
  ]
});

// (c) surface salinity
makePanel({
  left: 107, right: 867, top: 507, bottom: 658, xMin: -0.05, xMax: 129.0, xPad: 17,
  yMin: 0, yMax: 35, yTicks: salinityTicks, yPad: 11, titleX: 45, yTitle: 'Salinity',
  datasets: [
    series(zig(salKusatsuLo, salKusatsuHi, salKusatsuStart), '#000', 1.5),
    series(zig2(salMinouLo, salMinouHi, salMinouLo2, salMinouHi2), '#a6a6a6', 1.5)
  ]
});

// (d) chlorophyll-a, two axes
makePanel({
  left: 108, right: 869, top: 773, bottom: 924, xMin: -0.17, xMax: 128.6, xPad: 17,
  yMin: 0, yMax: 30, yTicks: chlTicks, yMinor: 2, yPad: 11, titleX: 44, yTitle: 'Chl-a (+10m)    μg/L',
  y2: { min: 0, max: 8.95, ticks: chlBottomTicks, minor: 1 },
  datasets: [
    Object.assign(series(zig2(chl5Lo, chl5Hi, chl5Lo2, chl5Hi2), '#ff4d4d', 1.3), { yAxisID: 'y2' }),
    series(zig2(chl10Lo, chl10Hi, chl10Lo2, chl10Hi2), '#000', 1.4)
  ]
});

// (e) turbidity
makePanel({
  left: 107, right: 871, top: 1022, bottom: 1173, xMin: -0.22, xMax: 129.1, xPad: 17,
  yMin: 0, yMax: 30, yTicks: turbidityTicks, yMinor: 2, yPad: 10, titleX: 44, yTitle: 'Turbidity    mg/L',
  datasets: [series(zig2(turbLo, turbHi, turbLo2, turbHi2), '#9a9a9a', 1.6)]
});

// (f) current velocity
makePanel({
  left: 107, right: 871, top: 1267, bottom: 1419, xMin: -0.05, xMax: 129.0, xPad: 16,
  yMin: 0, yMax: 15, yTicks: velocityTicks, yMinor: 1, yPad: 13, titleX: 48, yTitle: 'Velocity    m/s',
  datasets: [series(zig2(velLo, velHi, velLo2, velHi2), '#7f7f7f', 1.7)]
});
</script>
</body>
</html>
